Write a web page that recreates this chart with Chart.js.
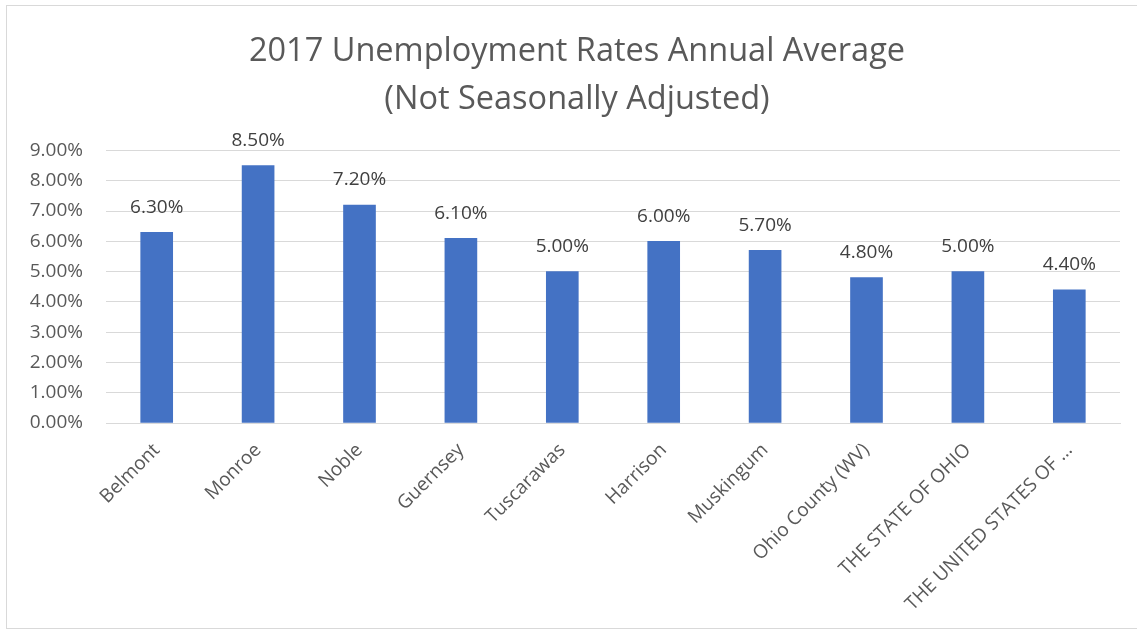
<!DOCTYPE html>
<html lang="en">
<head>
  <meta charset="UTF-8">
  <title>2017 Unemployment Rates</title>
  <style>
    html, body { margin: 0; padding: 0; background: #fff; }
    #wrap { position: relative; width: 1137px; height: 634px; }
    #frame { position: absolute; left: 6px; top: 5px; width: 1140px; height: 624px; border: 1px solid #d9d9d9; box-sizing: border-box; pointer-events: none; }
  </style>
</head>
<body>
<div id="wrap">
  <canvas id="chart" width="1137" height="634"></canvas>
  <div id="frame"></div>
</div>

<script src="https://cdn.jsdelivr.net/npm/chart.js"></script>
<script>
  const areas = ['Belmont', 'Monroe', 'Noble', 'Guernsey', 'Tuscarawas', 'Harrison',
                 'Muskingum', 'Ohio County (WV)', 'THE STATE OF OHIO', 'THE UNITED STATES OF …'];
  const rates = [6.3, 8.5, 7.2, 6.1, 5.0, 6.0, 5.7, 4.8, 5.0, 4.4];
  const titleLines = ['2017 Unemployment Rates Annual Average', '(Not Seasonally Adjusted)'];

  const textGrey = '#595959';
  const fontFamily = '"Open Sans", sans-serif';

  // value labels above each bar
  const barLabels = {
    id: 'barLabels',
    afterDatasetsDraw(chart) {
      const ctx = chart.ctx;
      const meta = chart.getDatasetMeta(0);
      ctx.save();
      ctx.font = '19px ' + fontFamily;
      ctx.fillStyle = '#404040';
      ctx.textAlign = 'center';
      ctx.textBaseline = 'middle';
      meta.data.forEach((bar, i) => {
        ctx.fillText(rates[i].toFixed(2) + '%', bar.x, bar.y - 25);
      });
      ctx.restore();
    }
  };

  // nudge the title box so the heading sits a little right of canvas centre
  const titleOffset = {
    id: 'titleOffset',
    afterLayout(chart) {
      if (chart.titleBlock) chart.titleBlock.left = 34;
    }
  };

  new Chart(document.getElementById('chart'), {
    type: 'bar',
    data: {
      labels: areas,
      datasets: [{
        data: rates,
        backgroundColor: '#4472C4',
        barThickness: 32
      }]
    },
    plugins: [barLabels, titleOffset],
    options: {
      responsive: false,
      animation: false,
      layout: { padding: { left: 0, right: 17, top: 0, bottom: 0 } },
      plugins: {
        legend: { display: false },
        tooltip: { enabled: false },
        title: {
          display: true,
          text: titleLines,
          color: textGrey,
          font: { family: fontFamily, size: 32.5, weight: 'normal', lineHeight: 1.5 },
          padding: { top: 27, bottom: 26 }
        }
      },
      scales: {
        x: {
          grid: { display: false },
          border: { color: '#d9d9d9' },
          ticks: {
            color: textGrey,
            font: { family: fontFamily, size: 19 },
            maxRotation: 45,
            minRotation: 45,
            padding: 8,
            autoSkip: false
          },
          afterFit(scale) { scale.height = 211; }
        },
        y: {
          min: 0,
          max: 9,
          ticks: {
            stepSize: 1,
            color: textGrey,
            font: { family: fontFamily, size: 19 },
            padding: 23,
            callback: v => v.toFixed(2) + '%'
          },
          grid: { color: '#d9d9d9', drawTicks: false },
          border: { display: false },
          afterFit(scale) { scale.width = 106; }
        }
      }
    }
  });
</script>
</body>
</html>
